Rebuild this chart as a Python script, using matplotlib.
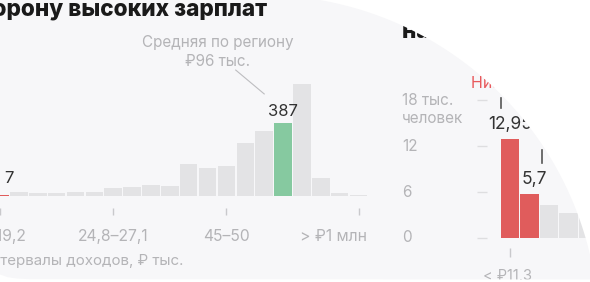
import matplotlib.pyplot as plt
import numpy as np
from matplotlib.patches import Polygon

plt.rcParams['font.family'] = ['Inter', 'DejaVu Sans']

# left histogram: number of people per income interval
left_values = [7, 20, 14, 14, 20, 20, 44, 50, 60, 55, 172, 147, 158, 280, 347, 387, 596, 97, 18, 7]
left_tick_idx = [0, 6, 12, 19]
left_tick_labels = ['17–19,2', '24,8–27,1', '45–50', '> ₽1 млн']
low_idx = 0      # red bar
mean_idx = 15    # green bar (regional average)

# right histogram, thousands of people
right_values = [12.95, 5.7, 4.3, 3.3, 2.6, 2.0, 1.5]
right_red = 2
right_yticks = [0, 6, 12, 18]
right_tick_labels = ['< ₽11,3']

GREY_BG = '#f7f7f9'
BAR = '#e3e3e5'
GREEN = '#86c9a0'
RED = '#e05c5c'
TXT = '#b4b4b7'
DARK = '#333333'

W, H = 590, 282
fig = plt.figure(figsize=(W / 100, H / 100), dpi=100)
fig.patch.set_facecolor(GREY_BG)


def px_axes(x0, y_top, x1, y_bot, **kw):
    return fig.add_axes([x0 / W, 1 - y_bot / H, (x1 - x0) / W, (y_bot - y_top) / H], **kw)


def clean(ax):
    ax.patch.set_visible(False)
    for s in ax.spines.values():
        s.set_color('none')


# ---- left chart
ax1 = px_axes(0, 60, 380, 196)
clean(ax1)
x1 = np.arange(len(left_values))
cols = [BAR] * len(left_values)
cols[low_idx] = RED
cols[mean_idx] = GREEN
ax1.bar(x1, left_values, width=0.93, color=cols, linewidth=0)
ax1.set_xlim(7 / 19.22, 387 / 19.22)
ax1.set_ylim(0, 136 * 5.32)
ax1.set_yticks([])
ax1.set_xticks(left_tick_idx)
ax1.spines['bottom'].set_position(('outward', 8.6))
ax1.tick_params(axis='x', length=5, width=1, color='#c9c9cc', labelbottom=False)
for i, lab in zip(left_tick_idx, left_tick_labels):
    last = i == left_tick_idx[-1]
    ax1.annotate(lab, xy=(i + 0.465 if last else i, 0), xytext=(0, -29),
                 textcoords='offset points', ha='right' if last else 'center',
                 va='center', color=TXT, size=11.3, annotation_clip=False)

ax1.annotate(str(left_values[mean_idx]), xy=(mean_idx, left_values[mean_idx]), xytext=(0, 5.5),
             textcoords='offset points', ha='center', va='baseline', color=DARK, size=12)
ax1.annotate(str(left_values[low_idx]), xy=(low_idx + 0.465, left_values[low_idx]), xytext=(-3, 8.4),
             textcoords='offset points', ha='left', va='baseline', color=DARK, size=12,
             annotation_clip=False)

ax1.text(11.55, 766, 'Средняя по региону\n₽96 тыс.', ha='center', va='center',
         color=TXT, size=11, linespacing=1.3)
ax1.plot([12.49, 14.0], [670, 543], color='#bdbdc0', lw=0.8, clip_on=False)

fig.text(-20 / W, 21 / H, 'Интервалы доходов, ₽ тыс.', ha='left', va='center', color=TXT, size=10.9)
fig.text(267 / W, 1 - 10 / H, 'в сторону высоких зарплат', ha='right', va='center',
         weight='heavy', size=16.3, color='#1a1a1a')

# ---- right chart
ax2 = px_axes(487, 238 - 19 * 7.65, 637, 238)
clean(ax2)
x2 = np.arange(len(right_values))
cols2 = [RED] * right_red + [BAR] * (len(right_values) - right_red)
ax2.bar(x2, right_values, width=0.94, color=cols2, linewidth=0)
ax2.set_xlim(-1.18, -1.18 + 150 / 19.5)
ax2.set_ylim(0, 19)
ax2.set_yticks(right_yticks)
ax2.tick_params(axis='y', length=7.2, width=1, color='#dedee0', labelleft=False)
ax2.set_xticks([0])
ax2.spines['bottom'].set_position(('outward', 7.2))
ax2.tick_params(axis='x', length=6.5, width=1, color='#c9c9cc', labelbottom=False)

ytr = ax2.get_yaxis_transform()
for v in right_yticks:
    ax2.text(-0.567, v, '18 тыс.' if v == 18 else str(v), transform=ytr,
             ha='left', va='center', color=TXT, size=11)
ax2.annotate('человек', xy=(-0.567, 18), xycoords=ytr, xytext=(0, -13), textcoords='offset points',
             ha='left', va='center', color=TXT, size=11, annotation_clip=False)
ax2.annotate(right_tick_labels[0], xy=(0, 0), xytext=(-2, -27.4), textcoords='offset points',
             ha='center', va='center', color=TXT, size=10.5, annotation_clip=False)

for i in range(right_red):
    ax2.annotate(f'{right_values[i]:g}'.replace('.', ','), xy=(i, right_values[i]),
                 xytext=(3.5 * i, 7.2), textcoords='offset points',
                 ha='center', va='baseline', color=DARK, size=12.5)
ax2.plot([-0.46, -0.46], [17.0, 18.3], color='#555555', lw=1.2, clip_on=False)
ax2.plot([1.63, 1.63], [9.8, 11.5], color='#555555', lw=1.2, clip_on=False)

fig.text(471 / W, 1 - 83 / H, 'Низкие доходы', color='#e8595c', size=11.5, va='center')
fig.text(402 / W, 1 - 31 / H, 'на нижнем конце', weight='heavy', size=16.3, va='center', color='#1a1a1a')

# ---- white page outside the rounded card
ov = fig.add_axes([0, 0, 1, 1], zorder=10)
ov.set_xlim(0, W)
ov.set_ylim(H, 0)
ov.axis('off')
cx, cy, R = 262, 332, 337
th = np.radians(np.linspace(0, 85, 200))
arc = list(zip(cx + R * np.sin(th), cy - R * np.cos(th)))
ov.add_patch(Polygon(arc + [(620, 300), (620, -20), (cx, -20)], closed=True, color='white', lw=0))
ov.add_patch(Polygon([(-20, 262), (0, 274.5), (8, 277.3), (18, 278.6), (30, 279.2), (620, 279.5),
                      (620, 300), (-20, 300)], closed=True, color='white', lw=0))

fig.savefig('out.png', dpi=100, facecolor=fig.get_facecolor())
